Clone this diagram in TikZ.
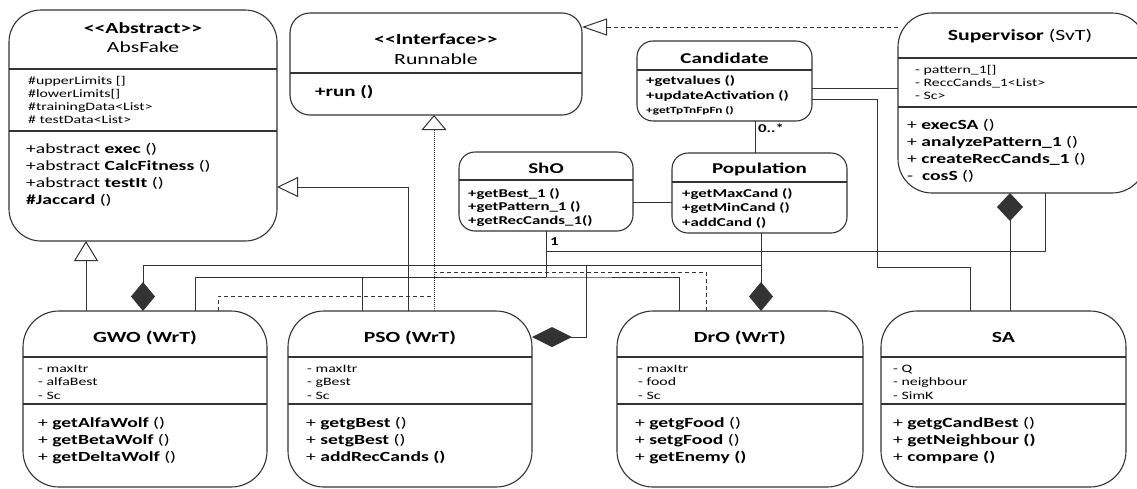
\documentclass[tikz,border=0pt]{standalone}
\usepackage{fontspec}
\setmainfont{Carlito}[FakeStretch=1.4]
\usetikzlibrary{arrows.meta}

\newcommand\stereo[1]{<\kern0pt<#1>\kern0pt>}

\tikzset{
  cls/.style={shape=rectangle,draw=black!80,line width=1.1pt,anchor=north west,inner sep=0pt,outer sep=0pt},
  divider/.style={draw=black!80,line width=1.1pt},
  ttl/.style={anchor=base,inner sep=0pt,font=\fontsize{15.5}{18}\selectfont},
  attr/.style={anchor=base west,inner sep=0pt,font=\fontsize{11.3}{13}\selectfont},
  meth/.style={anchor=base west,inner sep=0pt,font=\fontsize{14}{17}\selectfont},
  smeth/.style={anchor=base west,inner sep=0pt,font=\fontsize{12}{14}\selectfont\bfseries},
  mult/.style={anchor=base west,inner sep=0pt,font=\fontsize{12}{14}\selectfont\bfseries},
  con/.style={draw=black!80,line width=1pt},
  realize/.style={con,dash pattern=on 4pt off 3pt},
  inherit/.style={-{Triangle[open,length=#1,width=24pt]}},
  whole/.style={-{Diamond[length=29pt,width=24pt]}}
}

\begin{document}
\begin{tikzpicture}[x=1pt,y=-1pt]
\useasboundingbox (0,0) rectangle (1137,488);

% class boxes
\node[cls,minimum width=268pt,minimum height=231pt,rounded corners=32pt] (absfake) at (9,10) {};
\node[cls,minimum width=292pt,minimum height=102pt,rounded corners=20pt] (runnable) at (290,13) {};
\node[cls,minimum width=175pt,minimum height=80pt,rounded corners=16pt] (candidate) at (637,41) {};
\node[cls,minimum width=248pt,minimum height=180pt,rounded corners=34pt] (supervisor) at (898,13) {};
\node[cls,minimum width=174pt,minimum height=79pt,rounded corners=16pt] (sho) at (459,152) {};
\node[cls,minimum width=175pt,minimum height=80pt,rounded corners=16pt] (population) at (672,153) {};
\node[cls,minimum width=244pt,minimum height=176pt,rounded corners=36pt] (gwo) at (23,311) {};
\node[cls,minimum width=244pt,minimum height=176pt,rounded corners=36pt] (pso) at (288,311) {};
\node[cls,minimum width=246pt,minimum height=176pt,rounded corners=36pt] (dro) at (617,311) {};
\node[cls,minimum width=245pt,minimum height=176pt,rounded corners=36pt] (sa) at (881,311) {};

% compartments
\draw[divider] (absfake.west |- 0,69) -- (absfake.east |- 0,69);
\draw[divider] (absfake.west |- 0,131) -- (absfake.east |- 0,131);
\draw[divider] (runnable.west |- 0,73) -- (runnable.east |- 0,73);
\draw[divider] (candidate.west |- 0,70) -- (candidate.east |- 0,70);
\draw[divider] (supervisor.west |- 0,58) -- (supervisor.east |- 0,58);
\draw[divider] (supervisor.west |- 0,107) -- (supervisor.east |- 0,107);
\draw[divider] (sho.west |- 0,180) -- (sho.east |- 0,180);
\draw[divider] (population.west |- 0,182) -- (population.east |- 0,182);
\foreach \b in {gwo,pso,dro,sa} {
  \draw[divider] (\b.west |- 0,357) -- (\b.east |- 0,357);
  \draw[divider] (\b.west |- 0,404) -- (\b.east |- 0,404);
}

% titles
\node[ttl] (absfakeS) at (absfake.north |- 0,33) {\textbf{\stereo{Abstract}}};
\node[ttl] (absfakeT) at (absfake.north |- 0,52) {AbsFake};
\node[ttl] (runnableS) at (runnable.north |- 0,44) {\textbf{\stereo{Interface}}};
\node[ttl] (runnableT) at (runnable.north |- 0,64) {Runnable};
\node[ttl,font=\fontsize{15}{18}\selectfont] (candidateT) at (candidate.north |- 0,63) {\textbf{Candidate}};
\node[ttl] (supervisorT) at (1020,40) {\textbf{Supervisor} (SvT)};
\node[ttl,font=\fontsize{15}{18}\selectfont] (shoT) at (sho.north |- 0,173) {\textbf{ShO}};
\node[ttl,font=\fontsize{15}{18}\selectfont] (populationT) at (population.north |- 0,173) {\textbf{Population}};
\node[ttl] (gwoT) at (gwo.north |- 0,342) {\textbf{GWO (WrT)}};
\node[ttl] (psoT) at (pso.north |- 0,342) {\textbf{PSO (WrT)}};
\node[ttl] (droT) at (dro.north |- 0,342) {\textbf{DrO (WrT)}};
\node[ttl] (saT) at (sa.north |- 0,342) {\textbf{SA}};

% attributes
\foreach \t [count=\i] in {\#upperLimits [], \#lowerLimits[], \#trainingData<List>, \# testData<List>}
  \node[attr] (absfakeA\i) at (28,{84+13*(\i-1)}) {\t};
\foreach \t [count=\i] in {- pattern\_1[], - ReccCands\_1<List>, - Sc>}
  \node[attr] (supervisorA\i) at (915,{73+13*(\i-1)}) {\t};
\foreach \t [count=\i] in {- maxItr, - alfaBest, - Sc}
  \node[attr] (gwoA\i) at (38,{372+13.5*(\i-1)}) {\t};
\foreach \t [count=\i] in {- maxItr, - gBest, - Sc}
  \node[attr] (psoA\i) at (307,{372+13.5*(\i-1)}) {\t};
\foreach \t [count=\i] in {- maxItr, - food, - Sc}
  \node[attr] (droA\i) at (638,{372+13.5*(\i-1)}) {\t};
\foreach \t [count=\i] in {- Q, - neighbour, - SimK}
  \node[attr] (saA\i) at (893,{372+13.5*(\i-1)}) {\t};

% operations
\foreach \t [count=\i] in {+abstract \textbf{exec} (), +abstract \textbf{CalcFitness} (), +abstract \textbf{testIt} (), \textbf{\#Jaccard} ()}
  \node[meth] (absfakeM\i) at (26,{153+17*(\i-1)}) {\t};
\node[meth,font=\fontsize{15}{18}\selectfont\bfseries] (runnableM1) at (315,96) {+run ()};
\node[smeth] (candidateM1) at (646,84) {+getvalues ()};
\node[smeth] (candidateM2) at (646,99) {+updateActivation ()};
\node[smeth,font=\fontsize{9.5}{11}\selectfont\bfseries] (candidateM3) at (646,113) {+getTpTnFpFn ()};
\foreach \t [count=\i] in {+getBest\_1 (), +getPattern\_1 (), +getRecCands\_1()}
  \node[smeth] (shoM\i) at (468,{197+13.5*(\i-1)}) {\t};
\foreach \t [count=\i] in {+getMaxCand (), +getMinCand (), +addCand ()}
  \node[smeth] (populationM\i) at (682,{197+14.5*(\i-1)}) {\t};
\foreach \t [count=\i] in {+ \textbf{execSA} (), + \textbf{analyzePattern\_1} (), + \textbf{createRecCands\_1} (), -\ \ \textbf{cosS} ()}
  \node[meth] (supervisorM\i) at (907,{129+17*(\i-1)}) {\t};
\foreach \t [count=\i] in {+ \textbf{getAlfaWolf} (), + \textbf{getBetaWolf} (), + \textbf{getDeltaWolf} ()}
  \node[meth] (gwoM\i) at (38,{427+17*(\i-1)}) {\t};
\foreach \t [count=\i] in {+ \textbf{getgBest} (), + \textbf{setgBest} (), + \textbf{addRecCands ()}}
  \node[meth] (psoM\i) at (306,{427+17*(\i-1)}) {\t};
\foreach \t [count=\i] in {+ \textbf{getgFood} (), + \textbf{setgFood} (), + \textbf{getEnemy ()}}
  \node[meth] (droM\i) at (635,{427+17*(\i-1)}) {\t};
\foreach \t [count=\i] in {+ \textbf{getgCandBest} (), + \textbf{getNeighbour ()}, + \textbf{compare ()}}
  \node[meth] (saM\i) at (893,{427+17*(\i-1)}) {\t};

% junction points
\coordinate (shoj) at (546,277);
\coordinate (supj) at (546,251);
\coordinate (popj) at (761,265);
\coordinate (psoj) at (586,265);
\coordinate (realj1) at (434,296);
\coordinate (realj2) at (434,272);
\coordinate (saj) at (877,267);

% generalisation and realisation
\draw[con,inherit=20pt] (gwo.north -| 86,0) -- (absfake.south -| 86,0);
\draw[con,-{Triangle[open,length=21pt,width=20pt]}] (pso.north -| 408,0) |- (absfake.east |- 0,187);
\draw[con,densely dotted,-{Triangle[open,length=15pt,width=25pt]}] (pso.north -| 434,0) -- (runnable.south -| 434,0);
\draw[realize] (gwo.north -| 218,0) |- (realj1);
\draw[realize] (dro.north -| 706,0) |- (realj2);
\draw[realize,-{Triangle[open,length=25pt,width=17pt]}] (supervisor.west |- 0,27) -- (runnable.east |- 0,27);

% associations
\draw[con] (candidate.east |- 0,88) -- (supervisor.west |- 0,88);
\draw[con] (candidate.east |- 0,99) -| (saj) -| (sa.north -| 970,0);
\draw[con] (candidate.south -| 755,0) -- (population.north -| 755,0);
\node[mult] (candmult) at (758,132) {0..*};
\draw[con] (sho.east |- 0,202) -- (population.west |- 0,202);
\draw[con] (sho.south -| shoj) -- (shoj);
\node[mult] (shomult) at (550,245) {1};
\draw[con] (gwo.north -| 195,0) |- (shoj) -| (dro.north -| 679,0);
\draw[con] (pso.north -| 362,0) |- (shoj);
\draw[con] (supervisor.south -| 1045,0) |- (supj);

% composition
\draw[con,whole] (population.south -| popj) -- (dro.north -| popj);
\draw[con,whole] (popj) -| (gwo.north -| 143,0);
\draw[con,-{Diamond[length=40pt,width=20pt]}] (psoj) |- (pso.east |- 0,337);
\draw[con,-{Diamond[length=28pt,width=26pt]}] (sa.north -| 1010,0) -- (supervisor.south -| 1010,0);
\end{tikzpicture}
\end{document}
